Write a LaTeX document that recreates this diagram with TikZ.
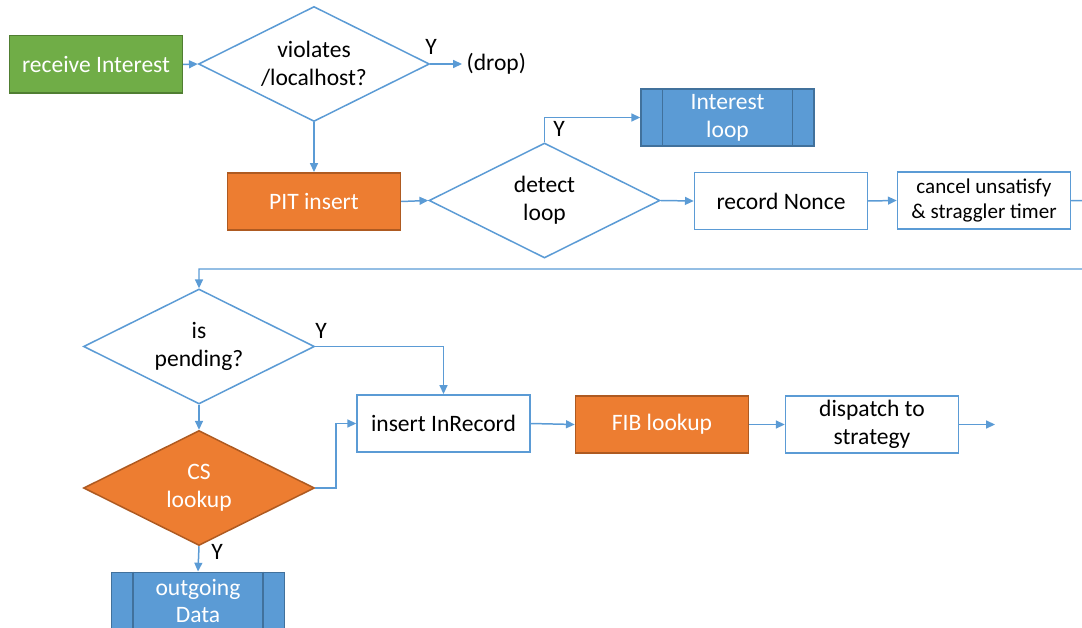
\documentclass[tikz,border=0pt]{standalone}
\usepackage{fontspec}
\setmainfont{Carlito}
\usetikzlibrary{shapes.geometric,arrows.meta}
\definecolor{linkblue}{HTML}{5B9BD5}
\definecolor{procblue}{HTML}{5B9BD5}
\definecolor{procedge}{HTML}{41719C}
\definecolor{stepgreen}{HTML}{70AD47}
\definecolor{greenedge}{HTML}{507E32}
\definecolor{steporange}{HTML}{ED7D31}
\definecolor{orangeedge}{HTML}{AE5A21}

\begin{document}
\begin{tikzpicture}[x=0.02cm, y=-0.02cm,
    font=\fontsize{13.4}{15.8}\selectfont,
    link/.style={draw=linkblue, line width=0.85pt},
    arrow/.style={link, -{Triangle[length=5pt,width=4.5pt]}},
    box/.style={draw=linkblue, line width=0.85pt, fill=white, minimum width=3.46cm, minimum height=1.15cm, inner sep=0pt, align=center},
    greenbox/.style={box, fill=stepgreen, draw=greenedge, text=white},
    orangebox/.style={box, fill=steporange, draw=orangeedge, text=white},
    subproc/.style={box, fill=procblue, draw=procedge, text=white},
    decision/.style={diamond, aspect=2, draw=linkblue, line width=0.85pt, fill=white, minimum width=4.62cm, minimum height=2.3cm, inner sep=0pt, align=center},
    orangedecision/.style={decision, fill=steporange, draw=orangeedge, text=white},
    ylabel/.style={inner sep=0pt}
  ]
  \useasboundingbox (0,0) rectangle (1082,628);
  \clip (0,0) rectangle (1082,628);

  % first row
  \node[greenbox] (recv) at (96,64.5) {receive Interest};
  \node[decision] (viol) at (314,64) {violates\\/localhost?};
  \node[anchor=west, inner sep=2.5pt] (drop) at (462,64) {(drop)};
  \node[ylabel] (yviol) at (431,47) {Y};

  % second row
  \node[orangebox] (pit) at (314,201.5) {PIT insert};
  \node[decision] (loop) at (544.5,200.5) {detect\\loop};
  \node[subproc] (iloop) at (727.5,117.5) {Interest\\loop};
  \draw[procedge, line width=0.85pt] ([xshift=0.44cm]iloop.north west) -- ([xshift=0.44cm]iloop.south west);
  \draw[procedge, line width=0.85pt] ([xshift=-0.44cm]iloop.north east) -- ([xshift=-0.44cm]iloop.south east);
  \node[ylabel] (yloop) at (559,129) {Y};
  \node[box] (nonce) at (781,201) {record Nonce};
  \node[box, font=\fontsize{12}{14.7}\selectfont] (cancel) at (984,200.5) {cancel unsatisfy\\\& straggler timer};

  % third part
  \node[decision] (pend) at (199,346.5) {is\\pending?};
  \node[ylabel] (ypend) at (321,331) {Y};
  \node[orangedecision] (cs) at (199,488) {CS\\lookup};
  \node[ylabel] (ycs) at (217,552) {Y};
  \node[subproc] (outdata) at (198,601) {outgoing\\Data};
  \draw[procedge, line width=0.85pt] ([xshift=0.44cm]outdata.north west) -- ([xshift=0.44cm]outdata.south west);
  \draw[procedge, line width=0.85pt] ([xshift=-0.44cm]outdata.north east) -- ([xshift=-0.44cm]outdata.south east);
  \node[box] (inrec) at (443.5,423.5) {insert InRecord};
  \node[orangebox] (fib) at (662,424.5) {FIB lookup};
  \node[box] (disp) at (872,424.5) {dispatch to\\strategy};

  % connectors
  \coordinate (wrapr) at (1100,201);
  \coordinate (wrapl) at (199,269);
  \coordinate (csbend) at (336,488);
  \coordinate (dispout) at (995,424.5);
  \draw[arrow] (recv.east) -- (viol.west);
  \draw[arrow] (viol.east) -- (drop.west);
  \draw[arrow] (viol.south) -- (pit.north);
  \draw[arrow] (pit.east) -- (loop.west);
  \draw[arrow] (loop.north) |- (iloop.west);
  \draw[arrow] (loop.east) -- (nonce.west);
  \draw[arrow] (nonce.east) -- (cancel.west);
  \draw[arrow] (cancel.east) -- (wrapr) |- (wrapl) -- (pend.north);
  \draw[arrow] (pend.east) -| (inrec.north);
  \draw[arrow] (pend.south) -- (cs.north);
  \draw[arrow] (cs.east) -- (csbend) |- (inrec.west);
  \draw[arrow] (cs.south) -- (outdata.north);
  \draw[arrow] (inrec.east) -- (fib.west);
  \draw[arrow] (fib.east) -- (disp.west);
  \draw[arrow] (disp.east) -- (dispout);
\end{tikzpicture}
\end{document}
